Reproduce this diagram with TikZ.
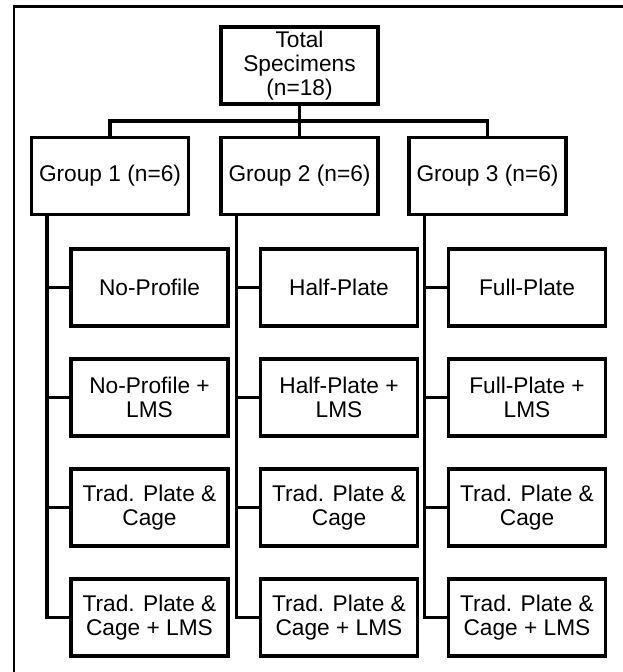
\documentclass[tikz,border=0pt]{standalone}
\usepackage{fontspec}
\setmainfont{Liberation Sans}
\tikzset{
  box/.style={draw, line width=3.3pt, minimum width=157pt, minimum height=77pt,
    inner sep=0pt, align=center},
  link/.style={line width=3.6pt}
}
\begin{document}
\begin{tikzpicture}[x=1pt, y=-1pt,
   every node/.style={font=\fontsize{22.7}{24}\selectfont}]
\useasboundingbox (0,0) rectangle (623,672);
\draw[line width=2.8pt] (14,672) -- (14,6.5) -- (623,6.5);

\node[box] (tot) at (299.5,65.5) {Total\\Specimens\\(n=18)};

\node[box] (g1) at (110,176)   {Group 1 (n=6)};
\node[box] (g2) at (299.5,176) {Group 2 (n=6)};
\node[box] (g3) at (487.5,176) {Group 3 (n=6)};

% group 1
\node[box] (g1a) at (149.5,287.5) {No-Profile};
\node[box] (g1b) at (149.5,397.5) {No-Profile +\\LMS};
\node[box] (g1c) at (149.5,507.5) {Trad. Plate \&\\Cage};
\node[box] (g1d) at (149.5,617.5) {Trad. Plate \&\\Cage + LMS};
% group 2
\node[box] (g2a) at (339,287.5) {Half-Plate};
\node[box] (g2b) at (339,397.5) {Half-Plate +\\LMS};
\node[box] (g2c) at (339,507.5) {Trad. Plate \&\\Cage};
\node[box] (g2d) at (339,617.5) {Trad. Plate \&\\Cage + LMS};
% group 3
\node[box] (g3a) at (527,287.5) {Full-Plate};
\node[box] (g3b) at (527,397.5) {Full-Plate +\\LMS};
\node[box] (g3c) at (527,507.5) {Trad. Plate \&\\Cage};
\node[box] (g3d) at (527,617.5) {Trad. Plate \&\\Cage + LMS};

% connectors
\coordinate (bus) at (299.5,121);
\draw[link] (tot.south) -- (g2.north);
\draw[link] (g1.north) |- (bus) -| (g3.north);

\coordinate (t1) at ([xshift=17pt]g1.south west);
\coordinate (t2) at ([xshift=17pt]g2.south west);
\coordinate (t3) at ([xshift=17pt]g3.south west);

\draw[link] (t1) |- (g1d.west);
\draw[link] (t1 |- g1a.west) -- (g1a.west);
\draw[link] (t1 |- g1b.west) -- (g1b.west);
\draw[link] (t1 |- g1c.west) -- (g1c.west);

\draw[link] (t2) |- (g2d.west);
\draw[link] (t2 |- g2a.west) -- (g2a.west);
\draw[link] (t2 |- g2b.west) -- (g2b.west);
\draw[link] (t2 |- g2c.west) -- (g2c.west);

\draw[link] (t3) |- (g3d.west);
\draw[link] (t3 |- g3a.west) -- (g3a.west);
\draw[link] (t3 |- g3b.west) -- (g3b.west);
\draw[link] (t3 |- g3c.west) -- (g3c.west);
\end{tikzpicture}
\end{document}
